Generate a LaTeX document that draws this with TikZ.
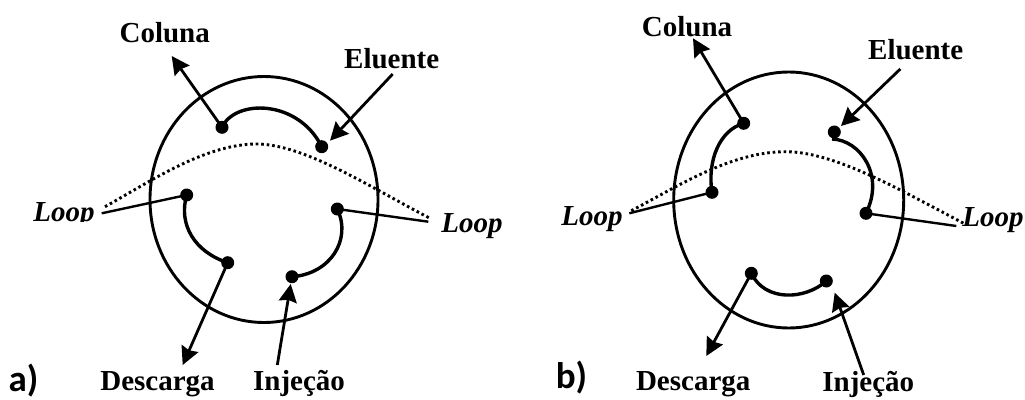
\documentclass[tikz,border=0pt]{standalone}
\usepackage{fontspec}
\setmainfont{Liberation Serif}
\newfontfamily\panelfont{Carlito}
\usetikzlibrary{arrows.meta}
\tikzset{
  valve/.style={draw=black,line width=2.9pt},
  port/.style={circle,fill=black,inner sep=0pt,minimum size=13pt},
  flow/.style={line width=2.8pt,-{Stealth[length=18pt,width=18pt,inset=2pt]}},
  tube/.style={line width=3.4pt},
  lead/.style={line width=2.4pt},
  loopline/.style={line width=2.9pt,dash pattern=on 2.6pt off 2.9pt},
  lab/.style={inner sep=0pt,anchor=base,font=\fontsize{29}{30}\selectfont\bfseries},
  looplab/.style={lab,font=\fontsize{29}{30}\selectfont\bfseries\itshape},
  panel/.style={inner sep=0pt,anchor=base,font=\fontsize{37}{40}\selectfont\panelfont\bfseries}
}
\begin{document}
\begin{tikzpicture}[x=1pt,y=-1pt]
\useasboundingbox (0,0) rectangle (1025,399);
% ---------- panel a
\node[looplab] (la1) at (64,221.7) {Loop};
\fill[white] (30,222) rectangle (100,240);
\node[looplab] (la2) at (472,232) {Loop};
\node[lab] (acol) at (164.7,42.7) {Coluna};
\node[lab] (aelu) at (391.7,68.3) {Eluente};
\node[lab] (ades) at (157.5,390) {Descarga};
\node[lab] (ainj) at (299,390) {Injeção};
\node[panel] (pa) at (23.5,391) {a)};
\node[draw=none,inner sep=0pt] (avalve) at (264,199.5) {};
\draw[valve] (avalve) ellipse [x radius=114,y radius=123];
\node[port] (a1) at (222,127.3) {};
\node[port] (a2) at (321.7,146.7) {};
\node[port] (a3) at (186.7,195) {};
\node[port] (a4) at (227.7,262.7) {};
\node[port] (a5) at (337.3,209) {};
\node[port] (a6) at (292,276.7) {};
\coordinate (atc) at (171.7,56);
\coordinate (afe) at (392.7,74);
\coordinate (ate) at (330,140.7);
\coordinate (atd) at (182.7,365);
\coordinate (afi) at (277.3,365);
\coordinate (ati) at (290.7,284);
\coordinate (al1) at (101.7,213.3);
\coordinate (al2) at (428.3,221.7);
\coordinate (ad1) at (105,206.7);
\coordinate (ad2) at (430,218.3);
\draw[loopline] (ad1) .. controls (150,181.7) and (205,144) .. (256.7,144)
   .. controls (305,144) and (375,190) .. (ad2);
\draw[tube] (a1.center) .. controls (235,99) and (298,99) .. (a2.center);
\draw[tube] (a3.center) .. controls (178,225) and (195,252) .. (a4.center);
\draw[tube] (a5.center) .. controls (352,240) and (330,274) .. (a6.center);
\draw[flow] (a1.center) -- (atc);
\draw[flow] (afe) -- (ate);
\draw[flow] (a4.center) -- (atd);
\draw[flow] (afi) -- (ati);
\draw[lead] (al1) -- (a3.center);
\draw[lead] (al2) -- (a5.center);
% ---------- panel b
\node[looplab] (lb1) at (592,225) {Loop};
\node[looplab] (lb2) at (993,226.7) {Loop};
\node[lab] (bcol) at (687,36) {Coluna};
\node[lab] (belu) at (915.7,59.3) {Eluente};
\node[lab] (bdes) at (693.2,390) {Descarga};
\node[lab] (binj) at (868.3,391.5) {Injeção};
\node[panel] (pb) at (571.5,388) {b)};
\node[draw=none,inner sep=0pt] (bvalve) at (788.7,200) {};
\draw[valve] (bvalve) ellipse [x radius=115,y radius=128];
\node[port] (b1) at (743.7,123.3) {};
\node[port] (b2) at (834.3,132) {};
\node[port] (b3) at (712,192.3) {};
\node[port] (b4) at (866,213.3) {};
\node[port] (b5) at (751.3,273.3) {};
\node[port] (b6) at (826.3,281) {};
\coordinate (btc) at (693,38.3);
\coordinate (bfe) at (900.3,69);
\coordinate (bte) at (841,126);
\coordinate (btd) at (706.3,356);
\coordinate (bfi) at (863.7,375);
\coordinate (bti) at (834.7,292.7);
\coordinate (bl1) at (629.3,213.3);
\coordinate (bl2) at (956.3,226);
\coordinate (bd1) at (631.3,210.7);
\coordinate (bd2) at (963.7,223.3);
\coordinate (bs2) at (832,139);
\draw[loopline] (bd1) .. controls (675,188) and (730,151.7) .. (785.3,151.7)
   .. controls (835,151.7) and (900,190) .. (bd2);
\draw[tube] (b1.center) .. controls (720,130) and (707,160) .. (b3.center);
\draw[tube] (bs2) .. controls (860,140) and (885,175) .. (b4.center);
\draw[tube] (b5.center) .. controls (765,302) and (805,300) .. (b6.center);
\draw[flow] (b1.center) -- (btc);
\draw[flow] (bfe) -- (bte);
\draw[flow] (b5.center) -- (btd);
\draw[flow] (bfi) -- (bti);
\draw[lead] (bl1) -- (b3.center);
\draw[lead] (bl2) -- (b4.center);
\end{tikzpicture}
\end{document}
